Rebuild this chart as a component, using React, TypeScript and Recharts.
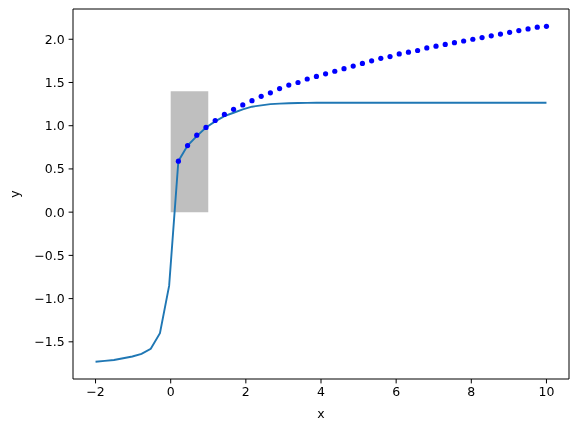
import {
  ComposedChart,
  Line,
  Scatter,
  XAxis,
  YAxis,
  ReferenceArea,
} from "recharts";

// sample positions shared by the curve and the dots
const xs = [
  -2, -1.755, -1.51, -1.265, -1.02, -0.776, -0.531, -0.286, -0.041, 0.204,
  0.449, 0.694, 0.939, 1.184, 1.429, 1.673, 1.918, 2.163, 2.408, 2.653,
  2.898, 3.143, 3.388, 3.633, 3.878, 4.122, 4.367, 4.612, 4.857, 5.102,
  5.347, 5.592, 5.837, 6.082, 6.327, 6.571, 6.816, 7.061, 7.306, 7.551,
  7.796, 8.041, 8.286, 8.531, 8.776, 9.02, 9.265, 9.51, 9.755, 10,
];

const curveY = [
  -1.73, -1.72, -1.71, -1.69, -1.67, -1.64, -1.58, -1.4, -0.85, 0.59,
  0.77, 0.88, 0.98, 1.05, 1.11, 1.15, 1.19, 1.22, 1.235, 1.25,
  1.255, 1.26, 1.262, 1.264, 1.265, 1.265, 1.265, 1.265, 1.265, 1.265,
  1.265, 1.265, 1.265, 1.265, 1.265, 1.265, 1.265, 1.265, 1.265, 1.265,
  1.265, 1.265, 1.265, 1.265, 1.265, 1.265, 1.265, 1.265, 1.265, 1.265,
];

// dots start at the first positive x
const dotY = [
  0.59, 0.77, 0.89, 0.98, 1.06, 1.13, 1.19, 1.24, 1.29, 1.34,
  1.38, 1.43, 1.47, 1.5, 1.54, 1.57, 1.6, 1.63, 1.66, 1.69,
  1.72, 1.75, 1.78, 1.8, 1.83, 1.85, 1.87, 1.9, 1.92, 1.94,
  1.96, 1.98, 2.0, 2.02, 2.04, 2.06, 2.08, 2.1, 2.12, 2.14, 2.15,
];

const box = { x1: 0, x2: 1, y1: 0, y2: 1.4 };

const xTicks = [-2, 0, 2, 4, 6, 8, 10];
const yTicks = [-1.5, -1.0, -0.5, 0.0, 0.5, 1.0, 1.5, 2.0];

const lineData = xs.map((x, i) => ({ x, y: curveY[i] }));
const dotData = xs.slice(9).map((x, i) => ({ x, y: dotY[i] }));

const xDomain = [-2.6, 10.6];
const yDomain = [-1.93, 2.35];

const font = "DejaVu Sans, sans-serif";
const tickStyle = { fontSize: 12.5, fill: "#000", fontFamily: font };
const minus = (s: string) => s.replace("-", "\u2212");

export default function App() {
  return (
    <div style={{ position: "fixed", left: 0, top: 0 }}>
      <ComposedChart
        width={578}
        height={432}
        data={lineData}
        margin={{ top: 8, right: 8, left: 0, bottom: 0 }}
      >
        <XAxis
          type="number"
          dataKey="x"
          domain={xDomain}
          ticks={xTicks}
          allowDataOverflow
          height={53}
          tickSize={4.4}
          tickMargin={4}
          tick={tickStyle}
          tickLine={{ stroke: "#000" }}
          axisLine={{ stroke: "#000" }}
          tickFormatter={(v: number) => minus(String(v))}
          label={{
            content: ({ viewBox }: any) => (
              <text
                x={viewBox.x + viewBox.width / 2}
                y={viewBox.y + 39}
                textAnchor="middle"
                fontSize={12.5}
                fontFamily={font}
                fill="#000"
              >
                x
              </text>
            ),
          }}
        />
        <XAxis
          xAxisId="top"
          orientation="top"
          type="number"
          dataKey="x"
          domain={xDomain}
          allowDataOverflow
          height={1}
          tick={false}
          tickLine={false}
          axisLine={{ stroke: "#000" }}
        />
        <YAxis
          type="number"
          domain={yDomain}
          ticks={yTicks}
          allowDataOverflow
          width={73}
          tickSize={4.4}
          tickMargin={4}
          tick={tickStyle}
          tickLine={{ stroke: "#000" }}
          axisLine={{ stroke: "#000" }}
          tickFormatter={(v: number) => minus(v.toFixed(1))}
          label={{
            content: ({ viewBox }: any) => {
              const lx = 19;
              const ly = viewBox.y + viewBox.height / 2;
              return (
                <text
                  x={lx}
                  y={ly}
                  transform={`rotate(-90 ${lx} ${ly})`}
                  textAnchor="middle"
                  fontSize={12.5}
                  fontFamily={font}
                  fill="#000"
                >
                  y
                </text>
              );
            },
          }}
        />
        <YAxis
          yAxisId="right"
          orientation="right"
          type="number"
          domain={yDomain}
          allowDataOverflow
          width={1}
          tick={false}
          tickLine={false}
          axisLine={{ stroke: "#000" }}
        />
        <ReferenceArea
          x1={box.x1}
          x2={box.x2}
          y1={box.y1}
          y2={box.y2}
          fill="#bfbfbf"
          fillOpacity={1}
          stroke="none"
        />
        <Line
          type="linear"
          dataKey="y"
          stroke="#1f77b4"
          strokeWidth={1.9}
          dot={false}
          isAnimationActive={false}
        />
        <Scatter
          data={dotData}
          dataKey="y"
          isAnimationActive={false}
          shape={(p: any) => (
            <circle cx={p.cx} cy={p.cy} r={2.6} fill="#0000ff" />
          )}
        />
      </ComposedChart>
    </div>
  );
}
